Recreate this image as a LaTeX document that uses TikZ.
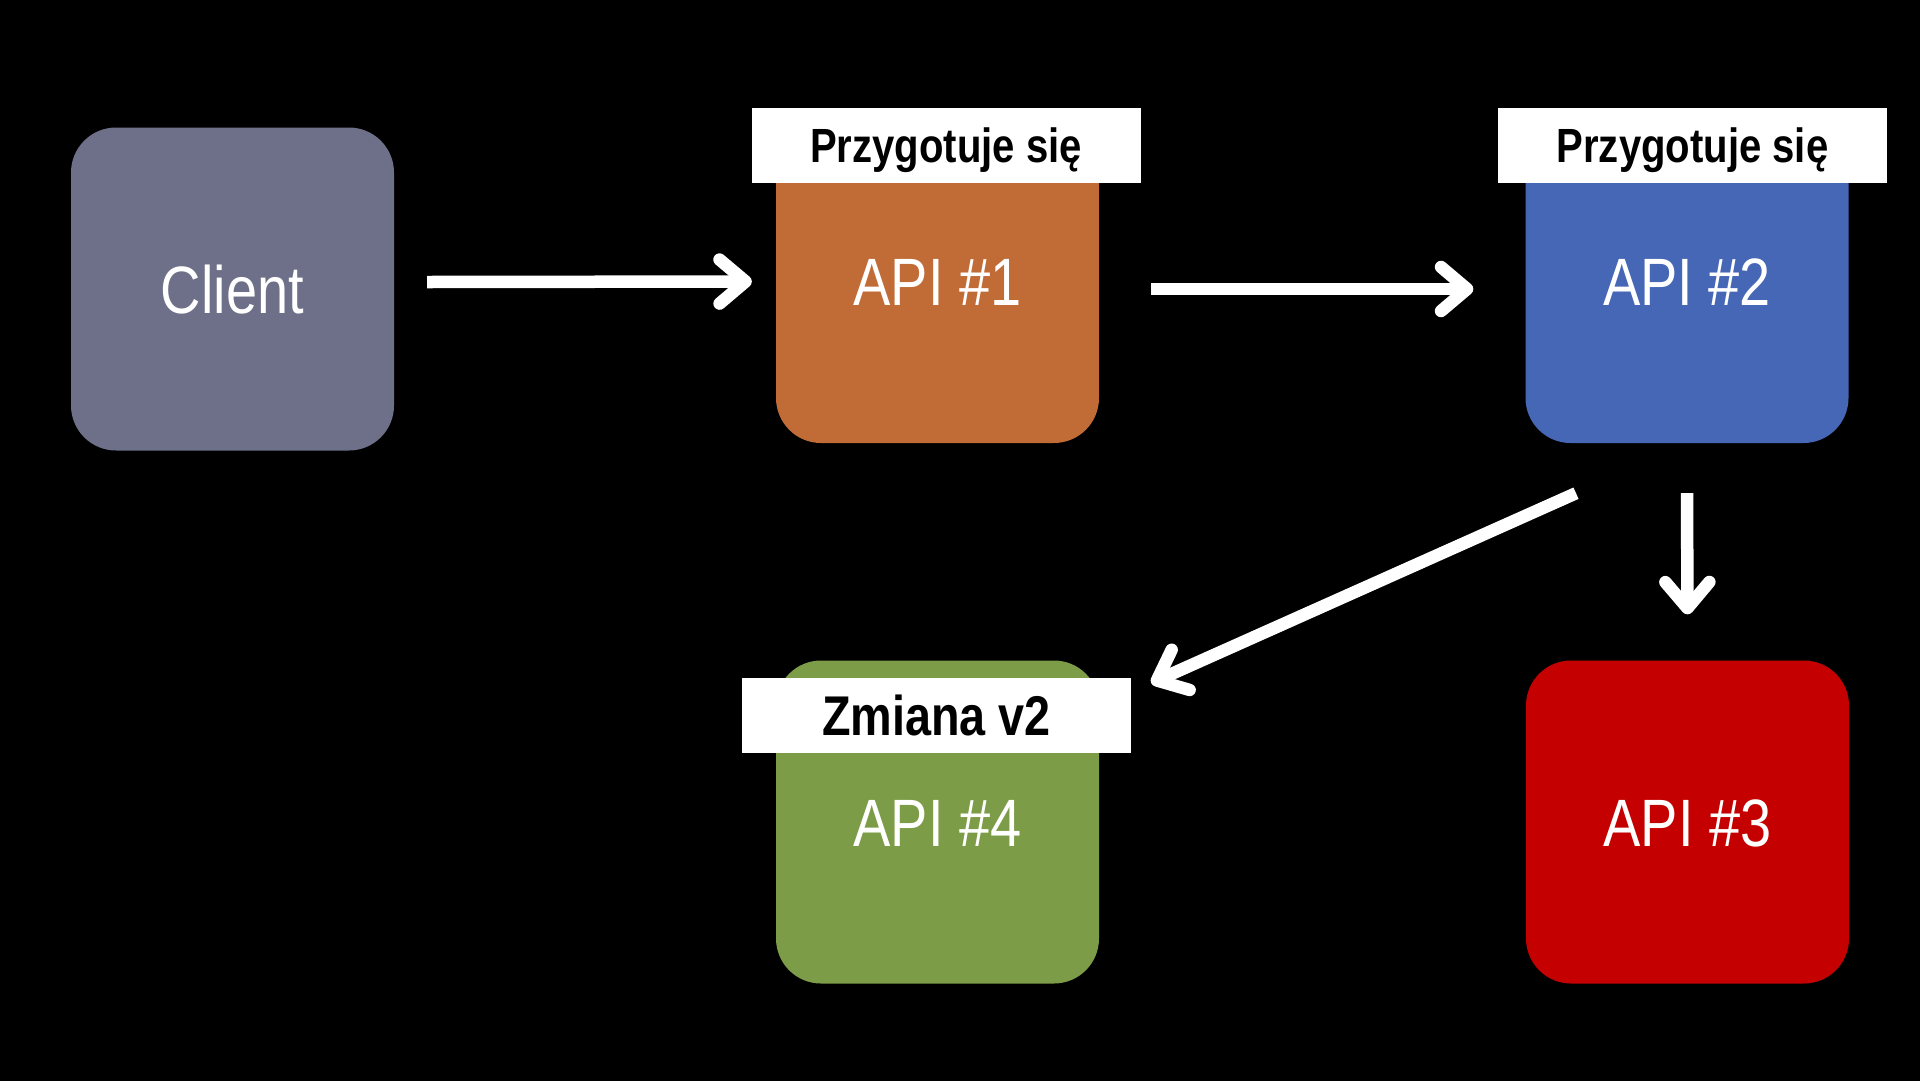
\documentclass[tikz,border=0pt]{standalone}
\usepackage{fontspec}
\setmainfont[FakeStretch=0.835]{Liberation Sans}
\usetikzlibrary{arrows.meta}
\definecolor{cgray}{HTML}{6E7089}
\definecolor{corange}{HTML}{C16B36}
\definecolor{cblue}{HTML}{4666B6}
\definecolor{cgreen}{HTML}{7C9C47}
\definecolor{cred}{HTML}{C40000}
\begin{document}
\begin{tikzpicture}[x=1pt,y=-1pt,
  box/.style={rounded corners=45pt, minimum width=323pt, minimum height=323pt,
    inner sep=0pt, text=white, font=\fontsize{67}{70}\selectfont,
    text height=48pt, text depth=0pt},
  tag/.style={fill=white, minimum width=389pt, minimum height=75pt, inner sep=0pt,
    text=black, text height=34pt, text depth=0pt},
  tagfont/.style={font=\bfseries\fontsize{48}{50}\selectfont},
  arr/.style={draw=white, line width=12.5pt,
    -{Straight Barb[length=26pt,width=44pt,round]}}]
\useasboundingbox (0,0) rectangle (1920,1080);
\fill[black] (-10,-10) rectangle (1930,1090);

\node[box, fill=cgray]   (client) at (232.5,289)   {Client};
\node[box, fill=corange] (api1)   at (937.5,281.5) {API \#1};
\node[box, fill=cblue]   (api2)   at (1687,281.5)  {API \#2};
\node[box, fill=cgreen]  (api4)   at (937.5,822)   {API \#4};
\node[box, fill=cred]    (api3)   at (1687.5,822)  {API \#3};

\node[tag, tagfont] (tag1) at (946,145.5)   {Przygotuje się};
\node[tag, tagfont] (tag2) at (1692.5,145.5) {Przygotuje się};
\node[tag, font=\bfseries\fontsize{56}{58}\selectfont, text height=40pt] (tag4) at (936.5,715.5) {Zmiana v2};

\draw[arr] ([xshift=33pt,yshift=7pt]client.east) -- ([xshift=-24pt]api1.west);
\draw[arr] ([xshift=52pt,yshift=-7.5pt]api1.east) -- ([xshift=-52pt,yshift=-7.5pt]api2.west);
\draw[arr] ([xshift=-111pt,yshift=-50pt]api2.south) -- ([xshift=20pt,yshift=32.5pt]tag4.east);
\draw[arr] ([yshift=-50pt]api2.south) -- ([yshift=46pt]api3.north);
\end{tikzpicture}
\end{document}
